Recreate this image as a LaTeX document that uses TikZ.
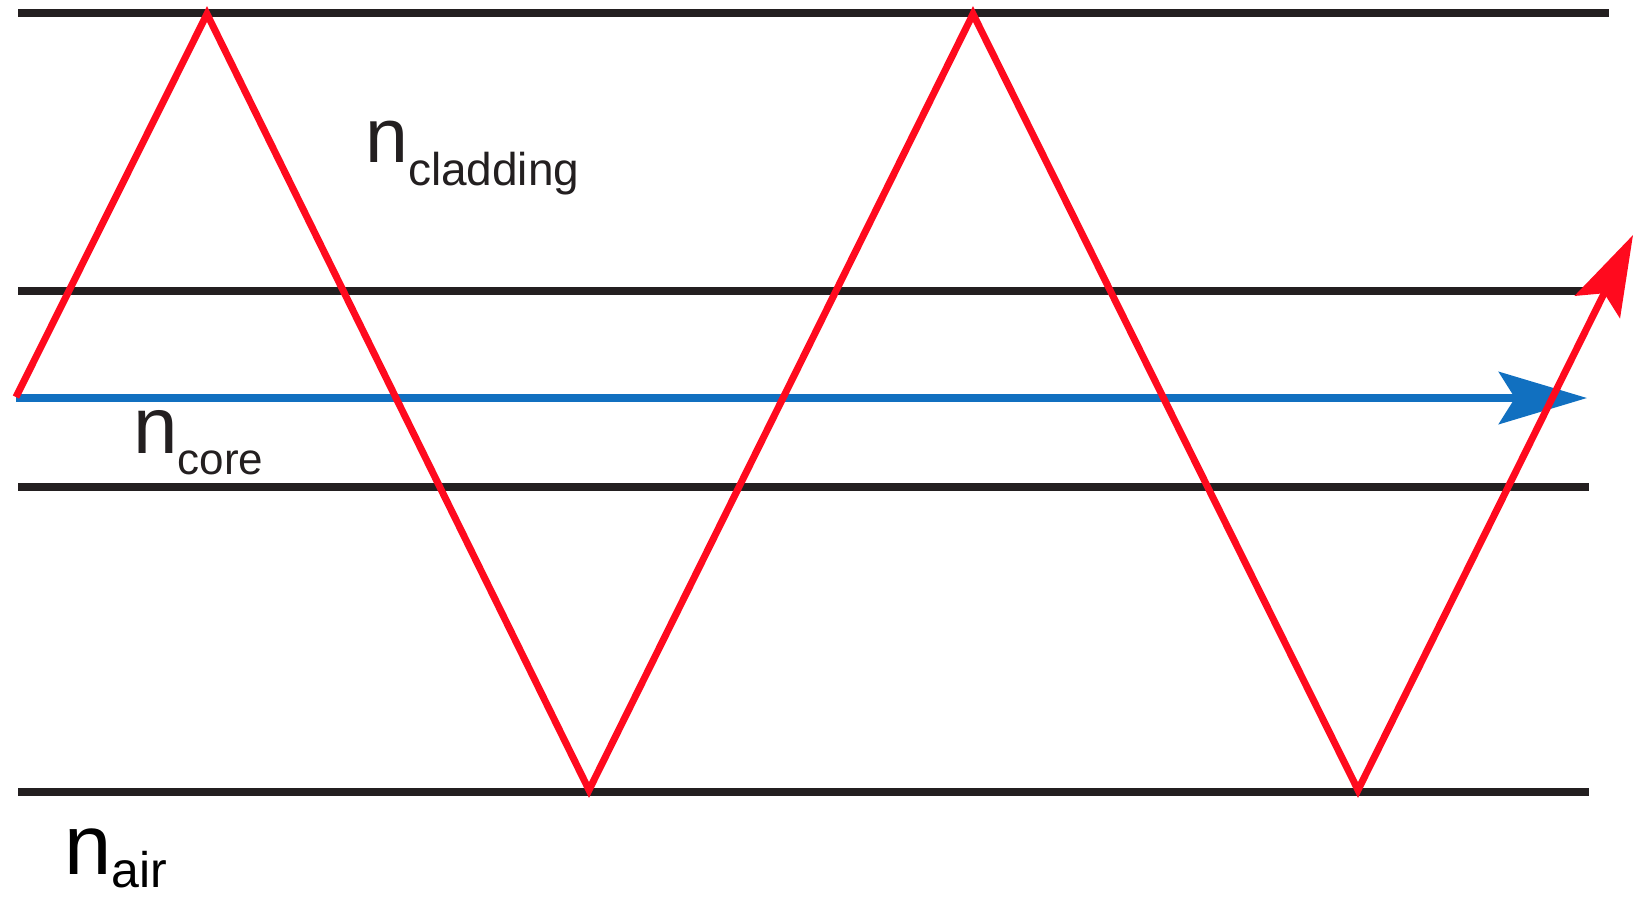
\documentclass[tikz,border=0pt]{standalone}
\usepackage{fontspec}
\setmainfont{Liberation Sans}
\usetikzlibrary{arrows.meta}
\definecolor{layerblack}{HTML}{231F20}
\definecolor{rayred}{HTML}{FF0A1E}
\definecolor{axisblue}{HTML}{1170C0}
\newcommand{\refidx}[4]{{\fontsize{#1}{#1}\selectfont n}\raisebox{-#3}{\fontsize{#2}{#2}\selectfont #4}}

\begin{document}
\begin{tikzpicture}[x=1pt, y=-1pt,
  layer/.style={draw=layerblack, line width=8pt},
  ray/.style={draw=rayred, line width=7pt, line join=miter},
  axis/.style={draw=axisblue, line width=8pt},
  idx/.style={anchor=base west, inner sep=0pt, text=layerblack}]
  \useasboundingbox (0,0) rectangle (1635,898);
  % interfaces
  \coordinate (t0) at (18,13);   \coordinate (t1) at (1609,13);
  \coordinate (c0) at (18,291);  \coordinate (c1) at (1587,291);
  \coordinate (k0) at (18,487);  \coordinate (k1) at (1589,487);
  \coordinate (b0) at (18,792);  \coordinate (b1) at (1589,792);
  \draw[layer] (t0) -- (t1);
  \draw[layer] (c0) -- (c1);
  \draw[layer] (k0) -- (k1);
  \draw[layer] (b0) -- (b1);
  % axial ray
  \coordinate (a0) at (16,398);
  \coordinate (a1) at (1587,398);
  \draw[axis, -{Stealth[length=88pt, width=52pt, inset=16pt]}] (a0) -- (a1);
  % zigzag ray
  \coordinate (r0) at (16,397);
  \coordinate (r1) at (207,14);
  \coordinate (r2) at (589,790);
  \coordinate (r3) at (973,14);
  \coordinate (r4) at (1358,790);
  \coordinate (r5) at (1633,235);
  \draw[ray, -{Stealth[length=80pt, width=50pt, inset=15pt]}]
    (r0) -- (r1) -- (r2) -- (r3) -- (r4) -- (r5);
  % labels
  \node[idx] (ncl) at (365,162) {\refidx{77pt}{46pt}{23pt}{cladding}};
  \node[idx] (nco) at (133,453) {\refidx{80pt}{44pt}{21pt}{core}};
  \node[idx, text=black] (nai) at (64,874) {\refidx{85pt}{50pt}{13pt}{air}};
\end{tikzpicture}
\end{document}
